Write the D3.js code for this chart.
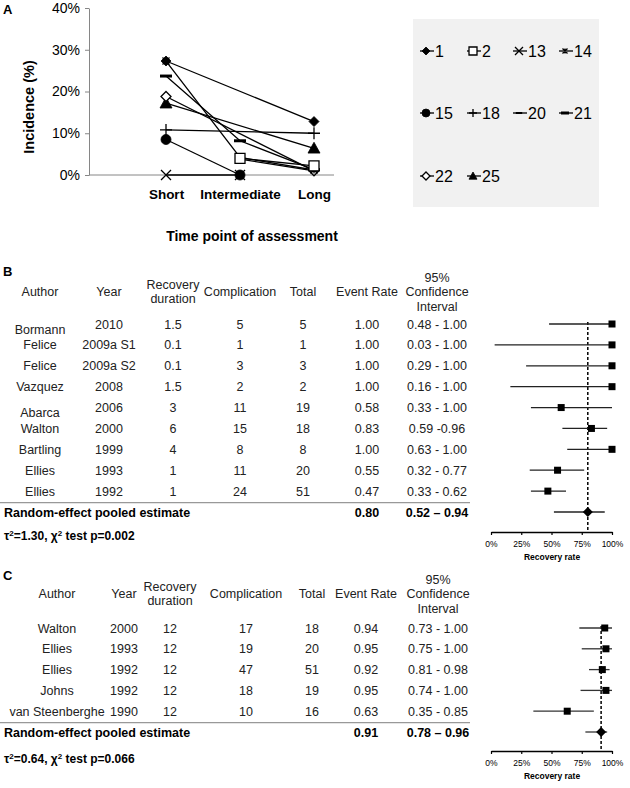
<!DOCTYPE html>
<html><head><meta charset="utf-8">
<script src="https://cdn.jsdelivr.net/npm/d3@7"></script>
<style>
html,body{margin:0;padding:0;background:#fff;}
svg text{font-family:Arial,"Liberation Sans",sans-serif;}
</style></head>
<body>
<svg id="chart" width="630" height="788"></svg>
<script>
// ---------- Panel A data ----------
const categories = ["Short", "Intermediate", "Long"];
const seriesNames = ["1", "2", "13", "14", "15", "18", "20", "21", "22", "25"];
const s1  = [0.273, null, 0.128];
const s2  = [null, 0.040, 0.022];
const s13 = [0, 0, null];
const s14 = [0.273, 0.042, 0.012];
const s15 = [0.085, 0, null];
const s18 = [0.108, null, 0.100];
const s20 = [null, 0.038, 0.010];
const s21 = [0.237, 0.082, 0.013];
const s22 = [0.188, null, 0.010];
const s25 = [0.172, null, 0.064];
const seriesValues = [s1, s2, s13, s14, s15, s18, s20, s21, s22, s25];
const yTicksA = [0, 0.1, 0.2, 0.3, 0.4];
const markerTypes = ["diamond","squareOpen","x","asterisk","circle","plus","dashThin","dashThick","diamondOpen","triangle"];

// ---------- Panel B data ----------
const authorsB = ["Bormann","Felice","Felice","Vazquez","Abarca","Walton","Bartling","Ellies","Ellies"];
const yearsB = ["2010","2009a S1","2009a S2","2008","2006","2000","1999","1993","1992"];
const durationB = ["1.5","0.1","0.1","1.5","3","6","4","1","1"];
const complicationB = [5,1,3,2,11,15,8,11,24];
const totalB = [5,1,3,2,19,18,8,20,51];
const rateB = [1.00,1.00,1.00,1.00,0.58,0.83,1.00,0.55,0.47];
const lowerB = [0.48,0.03,0.29,0.16,0.33,0.59,0.63,0.32,0.33];
const upperB = [1.00,1.00,1.00,1.00,1.00,0.96,1.00,0.77,0.62];
const ciLabelsB = ["0.48 - 1.00","0.03 - 1.00","0.29 - 1.00","0.16 - 1.00","0.33 - 1.00","0.59 -0.96","0.63 - 1.00","0.32 - 0.77","0.33 - 0.62"];
const pooledB = [0.80, 0.52, 0.94];
const hetB = ["1.30", "0.002"];

// ---------- Panel C data ----------
const authorsC = ["Walton","Ellies","Ellies","Johns","van Steenberghe"];
const yearsC = ["2000","1993","1992","1992","1990"];
const durationC = ["12","12","12","12","12"];
const complicationC = [17,19,47,18,10];
const totalC = [18,20,51,19,16];
const rateC = [0.94,0.95,0.92,0.95,0.63];
const lowerC = [0.73,0.75,0.81,0.74,0.35];
const upperC = [1.00,1.00,0.98,1.00,0.85];
const ciLabelsC = ["0.73 - 1.00","0.75 - 1.00","0.81 - 0.98","0.74 - 1.00","0.35 - 0.85"];
const pooledC = [0.91, 0.78, 0.96];
const hetC = ["0.64", "0.066"];
const forestTicks = [0, 0.25, 0.5, 0.75, 1];

const svg = d3.select("#chart");
const fmt2 = d3.format(".2f");

// ---------- markers ----------
function markerPath(type, s) {
  switch (type) {
    case "diamond": case "diamondOpen": return `M0,${-s}L${s},0L0,${s}L${-s},0Z`;
    case "squareOpen": return `M${-s},${-s}H${s}V${s}H${-s}Z`;
    case "x": return `M${-s},${-s}L${s},${s}M${-s},${s}L${s},${-s}`;
    case "asterisk": return `M${-s},${-s}L${s},${s}M${-s},${s}L${s},${-s}M0,${-s}V${s}`;
    case "circle": return `M${s},0A${s},${s} 0 1,1 ${-s},0A${s},${s} 0 1,1 ${s},0Z`;
    case "plus": return `M${-s},0H${s}M0,${-s}V${s}`;
    case "dashThin": return `M${-s*0.8},0H${s*0.8}`;
    case "dashThick": return `M${-s},0H${s}`;
    case "triangle": return `M0,${-s}L${s},${s*0.8}L${-s},${s*0.8}Z`;
  }
}
function markerStyle(sel, type) {
  const filled = ["diamond","circle","triangle"].includes(type);
  const open = ["squareOpen","diamondOpen"].includes(type);
  sel.attr("fill", filled ? "#000" : (open ? "#fff" : "none"))
     .attr("stroke", "#000")
     .attr("stroke-width", type === "dashThick" ? 3 : (type === "dashThin" ? 2 : (filled ? 0.8 : 1.3)));
}

// ---------- Panel A ----------
const gA = svg.append("g");
const yA = d3.scaleLinear().domain([0, 0.4]).range([175, 8]);
const xA = d3.scalePoint().domain(categories).range([166, 314]);

svg.append("text").attr("x", 3).attr("y", 14).attr("font-size", 13).attr("font-weight", "bold").text("A");

const yAxisA = gA.append("g").attr("transform", "translate(89,0)")
  .call(d3.axisLeft(yA).tickValues(yTicksA).tickFormat(d3.format(".0%")).tickSize(4).tickSizeOuter(0).tickPadding(5));
yAxisA.selectAll("path,line").attr("stroke", "#868686");
yAxisA.selectAll("text").attr("font-size", 14).attr("fill", "#000");

gA.append("line").attr("x1", 89).attr("x2", 334).attr("y1", yA(0)).attr("y2", yA(0)).attr("stroke", "#868686");
const xAxisA = gA.append("g").attr("transform", `translate(0,${yA(0)})`)
  .call(d3.axisBottom(xA).tickSize(0).tickPadding(14));
xAxisA.select(".domain").remove();
xAxisA.selectAll("text").attr("font-size", 13.5).attr("font-weight", "bold").attr("fill", "#000");

gA.append("text").attr("transform", "translate(34,107) rotate(-90)").attr("text-anchor", "middle")
  .attr("font-size", 14.5).attr("font-weight", "bold").text("Incidence (%)");
gA.append("text").attr("x", 252).attr("y", 241).attr("text-anchor", "middle")
  .attr("font-size", 14).attr("font-weight", "bold").text("Time point of assessment");

const line = d3.line().x(d => xA(d.c)).y(d => yA(d.v));
seriesValues.forEach((vals, i) => {
  const pts = vals.map((v, j) => ({c: categories[j], v})).filter(d => d.v !== null);
  gA.append("path").attr("d", line(pts)).attr("fill", "none").attr("stroke", "#000").attr("stroke-width", 1.3);
});
// draw markers in reverse order so series 1 ends on top
d3.range(seriesValues.length).reverse().forEach(i => {
  const vals = seriesValues[i];
  const pts = vals.map((v, j) => ({c: categories[j], v})).filter(d => d.v !== null);
  const t = markerTypes[i];
  const sz = t === "plus" ? 6 : (t === "dashThick" ? 6 : (t === "triangle" ? 6 : (t === "asterisk" ? 3.5 : 5)));
  gA.selectAll(null).data(pts).enter().append("path")
    .attr("transform", d => `translate(${xA(d.c)},${yA(d.v)})`)
    .attr("d", markerPath(t, sz))
    .call(markerStyle, t);
});

// legend
const lg = svg.append("g");
lg.append("rect").attr("x", 413).attr("y", 19).attr("width", 186).attr("height", 188).attr("fill", "#f1f1f1");
const legCols = [420, 467, 513, 559], legRows = [51, 113, 176];
seriesNames.forEach((name, i) => {
  const gx = legCols[i % 4], gy = legRows[Math.floor(i / 4)];
  const g = lg.append("g").attr("transform", `translate(${gx},${gy})`);
  g.append("line").attr("x1", 0).attr("x2", 14).attr("stroke", "#000").attr("stroke-width", 1.3);
  const t = markerTypes[i];
  g.append("path").attr("transform", "translate(6,0)").attr("d", markerPath(t, t === "asterisk" ? 2.5 : 4)).call(markerStyle, t);
  g.append("text").attr("x", 15).attr("y", 6).attr("font-size", 16).text(name);
});

// ---------- Tables + forest plots ----------
function drawPanel(cfg) {
  const g = svg.append("g");
  const n = cfg.authors.length;
  const rowY = d3.scalePoint().domain(d3.range(n + 1)).range(cfg.rowRange);
  const cx = cfg.cols;
  const fs = 12.5;
  g.append("text").attr("x", 3).attr("y", cfg.labelY).attr("font-size", 13).attr("font-weight", "bold").text(cfg.label);
  const hy = cfg.headY;
  const head = (x, y, t) => g.append("text").attr("x", x).attr("y", y + 4.5).attr("text-anchor", "middle").attr("font-size", fs).attr("fill", "#222").text(t);
  head(cx[0], hy, "Author"); head(cx[1], hy, "Year");
  head(cx[2], hy - 7, "Recovery"); head(cx[2], hy + 7.5, "duration");
  head(cx[3], hy, "Complication"); head(cx[4], hy, "Total"); head(cx[5], hy, "Event Rate");
  head(cx[6], hy - 14, "95%"); head(cx[6], hy, "Confidence"); head(cx[6], hy + 15, "Interval");

  const cells = [cfg.authors, cfg.years, cfg.duration, cfg.comp, cfg.total, cfg.rate.map(fmt2), cfg.ciLabels];
  cells.forEach((col, k) => {
    col.forEach((t, i) => {
      const dy = (k === 0 && cfg.authorShift[i]) ? cfg.authorShift[i] : 0;
      g.append("text").attr("x", cx[k]).attr("y", rowY(i) + 4.5 + dy).attr("text-anchor", "middle")
        .attr("font-size", fs).attr("fill", "#222").text(t);
    });
  });
  const sepY = (rowY(n - 1) + rowY(n)) / 2 + 1;
  g.append("line").attr("x1", 0).attr("x2", 470).attr("y1", sepY).attr("y2", sepY).attr("stroke", "#999").attr("stroke-width", 1.2);
  const py = rowY(n) + 4.5;
  g.append("text").attr("x", 4).attr("y", py).attr("font-size", fs).attr("font-weight", "bold").text("Random-effect pooled estimate");
  g.append("text").attr("x", cx[5]).attr("y", py).attr("text-anchor", "middle").attr("font-size", fs).attr("font-weight", "bold").text(fmt2(cfg.pooled[0]));
  g.append("text").attr("x", cx[6]).attr("y", py).attr("text-anchor", "middle").attr("font-size", fs).attr("font-weight", "bold")
    .text(fmt2(cfg.pooled[1]) + " \u2013 " + fmt2(cfg.pooled[2]));
  const ht = g.append("text").attr("x", 4).attr("y", cfg.hetY).attr("font-size", 12).attr("font-weight", "bold");
  ht.append("tspan").text("\u03C4");
  ht.append("tspan").attr("dy", -4).attr("font-size", 8).text("2");
  ht.append("tspan").attr("dy", 4).text("=" + cfg.het[0] + ", \u03C7");
  ht.append("tspan").attr("dy", -4).attr("font-size", 8).text("2");
  ht.append("tspan").attr("dy", 4).text(" test p=" + cfg.het[1]);

  // forest
  const xF = d3.scaleLinear().domain([0, 1]).range([491, 612]);
  const ax = g.append("g").attr("transform", `translate(0,${cfg.axisY})`)
    .call(d3.axisBottom(xF).tickValues(forestTicks).tickFormat(d3.format(".0%")).tickSize(3).tickSizeOuter(0).tickPadding(6));
  ax.select(".domain").attr("stroke", "#000").attr("stroke-width", 1.5);
  ax.selectAll("line").attr("stroke", "#000").attr("stroke-width", 1.2);
  ax.selectAll("text").attr("font-size", 8.5).attr("fill", "#000");
  g.append("text").attr("x", 552).attr("y", cfg.axisY + 28).attr("text-anchor", "middle").attr("font-size", 8.5).attr("font-weight", "bold").text("Recovery rate");

  g.append("line").attr("x1", xF(cfg.pooled[0])).attr("x2", xF(cfg.pooled[0]))
    .attr("y1", rowY(0) - 2).attr("y2", cfg.axisY).attr("stroke", "#000").attr("stroke-width", 1.5).attr("stroke-dasharray", "3,2");
  d3.range(n).forEach(i => {
    g.append("line").attr("x1", xF(cfg.lower[i])).attr("x2", xF(cfg.upper[i])).attr("y1", rowY(i)).attr("y2", rowY(i))
      .attr("stroke", cfg.ciColor).attr("stroke-width", 1.3);
    g.append("rect").attr("x", xF(cfg.rate[i]) - 3.5).attr("y", rowY(i) - 3.5).attr("width", 7).attr("height", 7).attr("fill", "#000");
  });
  g.append("line").attr("x1", xF(cfg.pooled[1])).attr("x2", xF(cfg.pooled[2])).attr("y1", rowY(n)).attr("y2", rowY(n))
    .attr("stroke", cfg.ciColor).attr("stroke-width", 1.3);
  g.append("path").attr("transform", `translate(${xF(cfg.pooled[0])},${rowY(n)})`).attr("d", markerPath("diamond", 5)).attr("fill", "#000");
}

drawPanel({
  label: "B", labelY: 276, headY: 291, rowRange: [324, 512], hetY: 540, axisY: 532,
  cols: [40, 109, 173, 240, 303, 367, 437],
  authors: authorsB, years: yearsB, duration: durationB, comp: complicationB, total: totalB,
  rate: rateB, lower: lowerB, upper: upperB, ciLabels: ciLabelsB, pooled: pooledB, het: hetB,
  authorShift: {0: 5, 4: 5}, ciColor: "#222"
});
drawPanel({
  label: "C", labelY: 580, headY: 593, rowRange: [628, 732], hetY: 763, axisY: 751,
  cols: [57, 124, 170, 246, 312, 366, 438],
  authors: authorsC, years: yearsC, duration: durationC, comp: complicationC, total: totalC,
  rate: rateC, lower: lowerC, upper: upperC, ciLabels: ciLabelsC, pooled: pooledC, het: hetC,
  authorShift: {}, ciColor: "#333"
});
</script>
</body></html>
